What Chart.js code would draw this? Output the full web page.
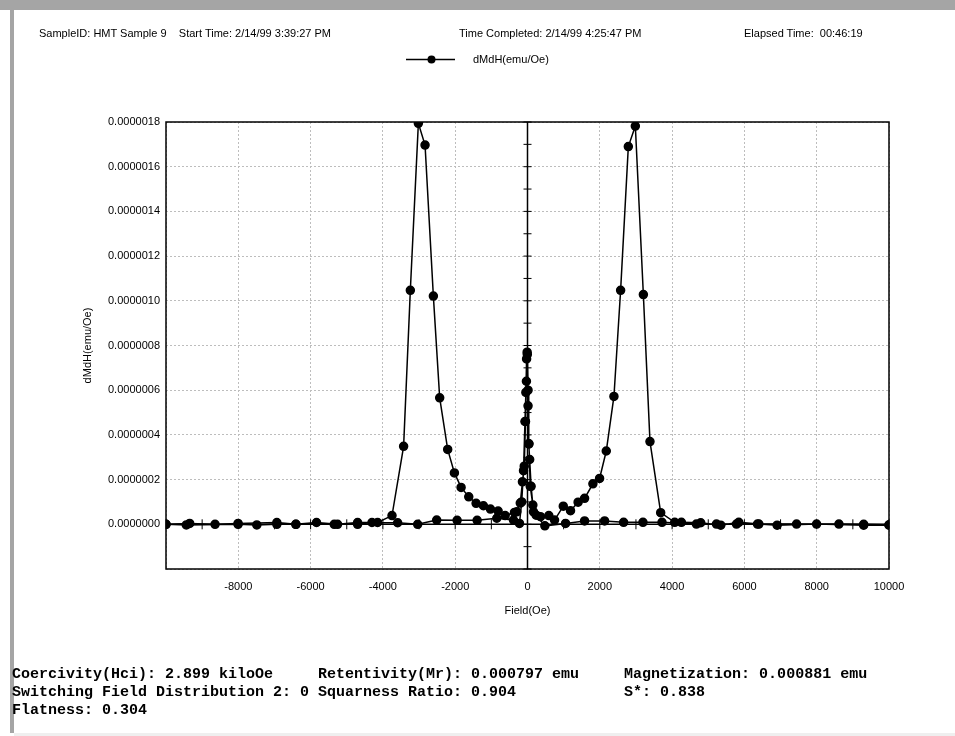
<!DOCTYPE html>
<html>
<head>
<meta charset="utf-8">
<script src="https://cdn.jsdelivr.net/npm/chart.js@4.4.1/dist/chart.umd.min.js"></script>
<style>
  html, body { margin: 0; padding: 0; background: #fff; }
  #page { position: relative; width: 955px; height: 736px; overflow: hidden; font-family: "Liberation Sans", Arial, sans-serif; font-size: 11px; color: #000; }
  .bar-top { position: absolute; left: 0; top: 0; width: 955px; height: 10px; background: #a5a5a5; }
  .bar-left { position: absolute; left: 10px; top: 0; width: 4px; height: 733px; background: #a5a5a5; }
  .bar-bottom { position: absolute; left: 14px; top: 733px; width: 941px; height: 3px; background: #efefef; }
  .hdr { position: absolute; top: 27px; line-height: 13px; white-space: pre; }
  #legend { position: absolute; left: 406px; top: 53px; height: 13px; line-height: 13px; }
  #legend svg { position: absolute; left: 0; top: 0; }
  #legend span { position: absolute; left: 67px; top: 0; white-space: pre; }
  #stats { position: absolute; left: 12px; top: 666px; margin: 0; font: bold 15px "Liberation Mono", "Courier New", monospace; line-height: 18px; white-space: pre; }
  canvas { position: absolute; left: 0; top: 0; }
</style>
</head>
<body>
<div id="page">
  <canvas id="dmdhChart" width="955" height="736"></canvas>
  <div class="bar-top"></div>
  <div class="bar-left"></div>
  <div class="bar-bottom"></div>
  <div class="hdr" style="left:39px">SampleID: HMT Sample 9    Start Time: 2/14/99 3:39:27 PM</div>
  <div class="hdr" style="left:459px">Time Completed: 2/14/99 4:25:47 PM</div>
  <div class="hdr" style="left:744px">Elapsed Time:  00:46:19</div>
  <div id="legend">
    <svg width="50" height="13"><line x1="0" y1="6.5" x2="49" y2="6.5" stroke="#000" stroke-width="1.5"/><circle cx="25.5" cy="6.5" r="4" fill="#000"/></svg>
    <span>dMdH(emu/Oe)</span>
  </div>
  <pre id="stats"></pre>
</div>
<script>
const seriesLabel = 'dMdH(emu/Oe)';

// descending field branch (+10000 -> -10000)
const fieldDown = [10000, 9300, 8615, 7443, 6362, 5781, 5227, 4672, 3721, 3194, 2659, 2133, 1579, 1053,
    480, 240, 148, 75, 40, 15, -10, -30, -55, -90, -140, -200, -296, -360, -618, -812, -1025, -1219,
    -1422, -1625, -1837, -2022, -2208, -2429, -2604, -2834, -3019, -3241, -3427, -3748, -4147, -4700,
    -5254, -5836, -6407, -6934, -8006, -8643, -9345, -10000];
const dmdhDown = [-0.02e-7, 0, 0.01e-7, 0.01e-7, 0.01e-7, 0.01e-7, 0.01e-7, 0.01e-7, 0.09e-7, 0.09e-7, 0.09e-7, 0.15e-7, 0.15e-7, 0.04e-7,
    -0.07e-7, 0.41e-7, 0.86e-7, 1.7e-7, 3.6e-7, 5.3e-7, 7.7e-7, 6.4e-7, 4.6e-7, 2.6e-7, 1.9e-7, 0.95e-7, 0.56e-7, 0.53e-7, 0.39e-7, 0.59e-7, 0.68e-7, 0.83e-7,
    0.94e-7, 1.23e-7, 1.65e-7, 2.30e-7, 3.35e-7, 5.66e-7, 10.21e-7, 16.97e-7, 17.94e-7, 10.47e-7, 3.49e-7, 0.39e-7, 0.08e-7, 0.08e-7,
    0, 0.08e-7, 0, 0.08e-7, 0.04e-7, 0, 0.04e-7, 0];

// ascending field branch (-10000 -> +10000)
const fieldUp = [-10000, -9438, -8006, -7488, -6934, -6407, -5346, -4700, -4302, -3592, -3038, -2512, -1947, -1393,
    -850, -388, -222, -160, -110, -70, -45, -25, -5, 15, 35, 60, 100, 166, 360, 590, 748, 990, 1190, 1400,
    1579, 1809, 1994, 2179, 2391, 2576, 2789, 2983, 3205, 3388, 3684, 4072, 4257, 4792, 5346, 5845, 6400,
    6906, 7997, 9299, 10000];
const dmdhUp = [0, -0.03e-7, 0, -0.03e-7, 0, 0, 0, 0, 0.08e-7, 0.07e-7, 0, 0.19e-7, 0.18e-7, 0.18e-7,
    0.27e-7, 0.19e-7, 0.04e-7, 1.0e-7, 2.4e-7, 4.6e-7, 5.9e-7, 7.4e-7, 7.6e-7, 6.0e-7, 3.6e-7, 2.9e-7, 1.7e-7, 0.56e-7, 0.34e-7, 0.39e-7, 0.19e-7, 0.81e-7, 0.61e-7, 0.99e-7,
    1.16e-7, 1.81e-7, 2.05e-7, 3.28e-7, 5.72e-7, 10.47e-7, 16.9e-7, 17.82e-7, 10.28e-7, 3.70e-7, 0.52e-7, 0.09e-7, 0.09e-7, 0.07e-7, -0.04e-7, 0.09e-7, 0.01e-7,
    -0.04e-7, 0.01e-7, -0.04e-7, -0.04e-7];

const fieldMin = -10000, fieldMax = 10000, fieldStep = 2000;
const dmdhMin = -2e-7, dmdhMax = 18e-7, dmdhStep = 2e-7;

const statsCol1 = ['Coercivity(Hci): 2.899 kiloOe', 'Switching Field Distribution 2: 0', 'Flatness: 0.304'];
const statsCol2 = ['Retentivity(Mr): 0.000797 emu', 'Squarness Ratio: 0.904', ''];
const statsCol3 = ['Magnetization: 0.000881 emu', 'S*: 0.838', ''];

document.getElementById('stats').textContent = statsCol1
    .map((c, i) => (c.padEnd(34) + statsCol2[i].padEnd(34) + statsCol3[i]).trimEnd())
    .join('\n');

const points = [];
fieldDown.forEach((f, i) => points.push({ x: f, y: dmdhDown[i] }));
fieldUp.forEach((f, i) => points.push({ x: f, y: dmdhUp[i] }));

// frame around the plot plus the zero axes with their small ticks
const frameAndAxes = {
    id: 'frameAndAxes',
    beforeDatasetsDraw(chart) {
        const { ctx, chartArea: a, scales: { x, y } } = chart;
        const x0 = x.getPixelForValue(0);
        const y0 = y.getPixelForValue(0);
        ctx.save();
        ctx.strokeStyle = '#000';
        ctx.lineWidth = 1.5;
        ctx.beginPath();
        ctx.moveTo(x0, a.top); ctx.lineTo(x0, a.bottom);
        ctx.moveTo(a.left, y0); ctx.lineTo(a.right, y0);
        ctx.stroke();
        ctx.lineWidth = 1;
        ctx.beginPath();
        for (let v = fieldMin; v <= fieldMax; v += fieldStep / 2) {
            const px = x.getPixelForValue(v);
            ctx.moveTo(px, y0 - 5); ctx.lineTo(px, y0 + 5);
        }
        for (let k = 0; k <= 20; k++) {
            const py = y.getPixelForValue(dmdhMin + k * dmdhStep / 2);
            ctx.moveTo(x0 - 4, py); ctx.lineTo(x0 + 4, py);
        }
        ctx.stroke();
        ctx.restore();
    },
    afterDatasetsDraw(chart) {
        const { ctx, chartArea: a } = chart;
        ctx.save();
        ctx.strokeStyle = '#000';
        ctx.lineWidth = 1.5;
        ctx.strokeRect(a.left, a.top, a.right - a.left, a.bottom - a.top);
        ctx.restore();
    }
};

const tickFont = { family: "'Liberation Sans', Arial, sans-serif", size: 11 };

new Chart(document.getElementById('dmdhChart'), {
    type: 'scatter',
    data: {
        datasets: [{
            label: seriesLabel,
            data: points,
            showLine: true,
            borderColor: '#000',
            backgroundColor: '#000',
            borderWidth: 1.5,
            pointRadius: 4,
            pointHoverRadius: 4,
            tension: 0
        }]
    },
    options: {
        responsive: false,
        animation: false,
        events: [],
        layout: { padding: { left: 0, top: 122, right: 66, bottom: 0 } },
        plugins: {
            legend: { display: false },
            title: { display: false },
            tooltip: { enabled: false }
        },
        scales: {
            x: {
                type: 'linear',
                min: fieldMin,
                max: fieldMax,
                afterFit: s => { s.height = 167; },
                ticks: {
                    stepSize: fieldStep,
                    padding: 11,
                    color: '#000',
                    font: tickFont,
                    maxRotation: 0,
                    callback: v => (v === fieldMin ? '' : String(v))
                },
                grid: { color: '#bdbdbd', lineWidth: 1, drawTicks: false },
                border: { display: false, dash: [2, 2] },
                title: {
                    display: true,
                    text: 'Field(Oe)',
                    color: '#000',
                    font: tickFont,
                    padding: { top: 0, bottom: 118 }
                }
            },
            y: {
                type: 'linear',
                min: dmdhMin,
                max: dmdhMax,
                afterFit: s => { s.width = 166; },
                ticks: {
                    stepSize: dmdhStep,
                    padding: 6,
                    color: '#000',
                    font: tickFont,
                    callback: v => (v < -1e-9 ? '' : Math.abs(v).toFixed(7))
                },
                grid: { color: '#bdbdbd', lineWidth: 1, drawTicks: false },
                border: { display: false, dash: [2, 2] },
                title: {
                    display: true,
                    text: 'dMdH(emu/Oe)',
                    color: '#000',
                    font: tickFont,
                    padding: { top: 81, bottom: 0 }
                }
            }
        }
    },
    plugins: [frameAndAxes]
});
</script>
</body>
</html>
